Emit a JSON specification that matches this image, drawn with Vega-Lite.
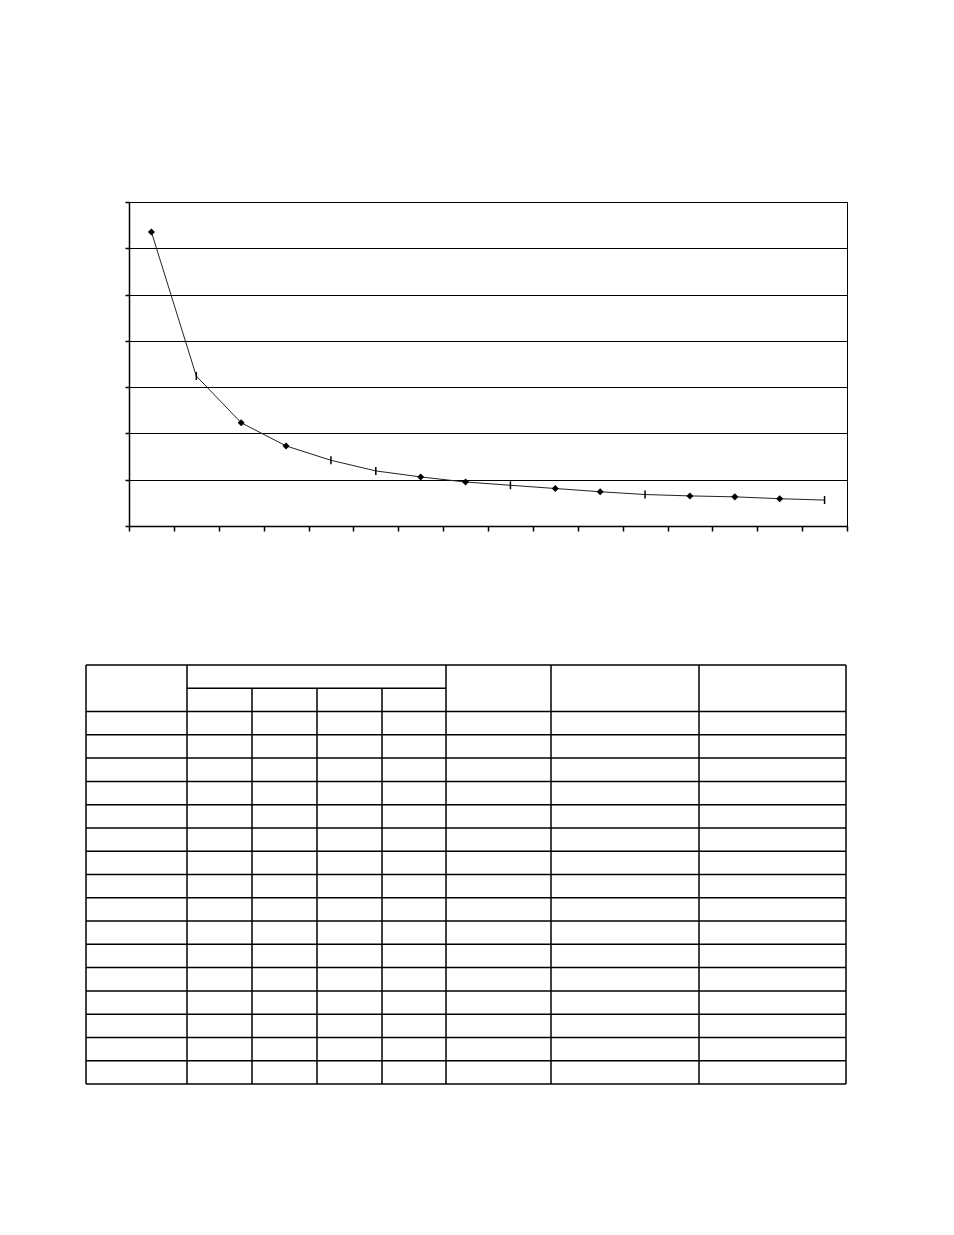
{
  "$schema": "https://vega.github.io/schema/vega-lite/v6.json",
  "background": "white",
  "padding": {"left": 85, "top": 200, "right": 0, "bottom": 0},
  "bounds": "flush",
  "spacing": 139,
  "datasets": {
    "curve": [
      {"n": 1, "value": 6.35},
      {"n": 2, "value": 3.24},
      {"n": 3, "value": 2.23},
      {"n": 4, "value": 1.73},
      {"n": 5, "value": 1.42},
      {"n": 6, "value": 1.19},
      {"n": 7, "value": 1.06},
      {"n": 8, "value": 0.95},
      {"n": 9, "value": 0.88},
      {"n": 10, "value": 0.81},
      {"n": 11, "value": 0.74},
      {"n": 12, "value": 0.68},
      {"n": 13, "value": 0.65},
      {"n": 14, "value": 0.63},
      {"n": 15, "value": 0.59},
      {"n": 16, "value": 0.56}
    ],
    "table": [
      {"x1": 0, "x2": 760, "y1": 0, "y2": 0},
      {"x1": 101, "x2": 360, "y1": 1, "y2": 1},
      {"x1": 0, "x2": 760, "y1": 2, "y2": 2},
      {"x1": 0, "x2": 760, "y1": 3, "y2": 3},
      {"x1": 0, "x2": 760, "y1": 4, "y2": 4},
      {"x1": 0, "x2": 760, "y1": 5, "y2": 5},
      {"x1": 0, "x2": 760, "y1": 6, "y2": 6},
      {"x1": 0, "x2": 760, "y1": 7, "y2": 7},
      {"x1": 0, "x2": 760, "y1": 8, "y2": 8},
      {"x1": 0, "x2": 760, "y1": 9, "y2": 9},
      {"x1": 0, "x2": 760, "y1": 10, "y2": 10},
      {"x1": 0, "x2": 760, "y1": 11, "y2": 11},
      {"x1": 0, "x2": 760, "y1": 12, "y2": 12},
      {"x1": 0, "x2": 760, "y1": 13, "y2": 13},
      {"x1": 0, "x2": 760, "y1": 14, "y2": 14},
      {"x1": 0, "x2": 760, "y1": 15, "y2": 15},
      {"x1": 0, "x2": 760, "y1": 16, "y2": 16},
      {"x1": 0, "x2": 760, "y1": 17, "y2": 17},
      {"x1": 0, "x2": 760, "y1": 18, "y2": 18},
      {"x1": 0, "x2": 0, "y1": 0, "y2": 18},
      {"x1": 101, "x2": 101, "y1": 0, "y2": 18},
      {"x1": 166, "x2": 166, "y1": 1, "y2": 18},
      {"x1": 231, "x2": 231, "y1": 1, "y2": 18},
      {"x1": 296, "x2": 296, "y1": 1, "y2": 18},
      {"x1": 360, "x2": 360, "y1": 0, "y2": 18},
      {"x1": 465, "x2": 465, "y1": 0, "y2": 18},
      {"x1": 613, "x2": 613, "y1": 0, "y2": 18},
      {"x1": 760, "x2": 760, "y1": 0, "y2": 18}
    ]
  },
  "vconcat": [
    {
      "width": 718,
      "height": 324,
      "data": {"name": "curve"},
      "view": {"stroke": "black", "strokeWidth": 1},
      "encoding": {
        "x": {
          "field": "n",
          "type": "quantitative",
          "scale": {"domain": [0.5, 16.5], "nice": false, "zero": false},
          "axis": {
            "title": null,
            "labels": false,
            "grid": false,
            "values": [0.5, 1.5, 2.5, 3.5, 4.5, 5.5, 6.5, 7.5, 8.5, 9.5, 10.5, 11.5, 12.5, 13.5, 14.5, 15.5, 16.5],
            "domainColor": "black",
            "domainWidth": 1.5,
            "tickColor": "black",
            "tickWidth": 1.5,
            "tickSize": 5
          }
        },
        "y": {
          "field": "value",
          "type": "quantitative",
          "scale": {"domain": [0, 7], "nice": false},
          "axis": {
            "title": null,
            "labels": false,
            "values": [0, 1, 2, 3, 4, 5, 6, 7],
            "grid": true,
            "gridColor": "black",
            "gridWidth": 1,
            "gridOpacity": 1,
            "domainColor": "black",
            "domainWidth": 1.5,
            "tickColor": "black",
            "tickWidth": 1.5,
            "tickSize": 4
          }
        }
      },
      "layer": [
        {"mark": {"type": "line", "color": "#222", "strokeWidth": 1}},
        {
          "transform": [{"filter": "indexof([2, 5, 6, 9, 12, 16], datum.n) < 0"}],
          "mark": {"type": "point", "shape": "diamond", "filled": true, "color": "black", "size": 50, "opacity": 1}
        },
        {
          "transform": [{"filter": "indexof([2, 5, 6, 9, 12, 16], datum.n) >= 0"}],
          "mark": {"type": "tick", "orient": "vertical", "size": 8, "thickness": 1.5, "color": "black", "opacity": 1}
        }
      ]
    },
    {
      "width": 717,
      "height": 419,
      "data": {"name": "table"},
      "view": {"stroke": null},
      "mark": {"type": "rule", "color": "black", "strokeWidth": 1.5},
      "encoding": {
        "x": {"field": "x1", "type": "quantitative", "scale": {"domain": [43, 760], "nice": false, "zero": false}, "axis": null},
        "x2": {"field": "x2"},
        "y": {"field": "y1", "type": "quantitative", "scale": {"domain": [0, 18], "reverse": true, "nice": false, "zero": false}, "axis": null},
        "y2": {"field": "y2"}
      }
    }
  ]
}
